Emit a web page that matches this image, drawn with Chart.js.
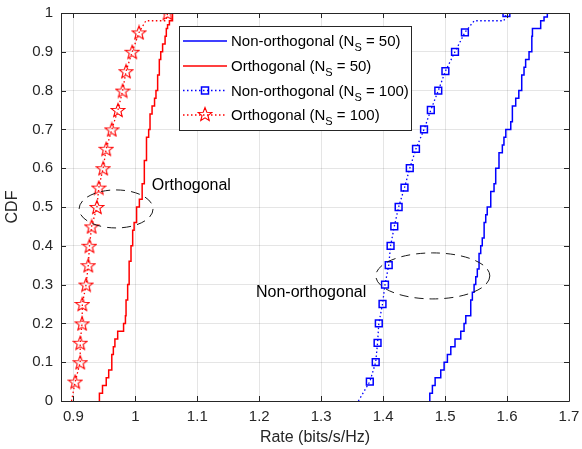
<!DOCTYPE html>
<html>
<head>
<meta charset="utf-8">
<script src="https://cdn.jsdelivr.net/npm/chart.js@4"></script>
<style>
  body { margin: 0; background: #fff; }
  canvas { display: block; }
</style>
</head>
<body>
<canvas id="myChart" width="582" height="449" style="width:582px;height:449px"></canvas>
<script>
// tick values
const xTicks = [0.9, 1, 1.1, 1.2, 1.3, 1.4, 1.5, 1.6, 1.7];
const yTicks = [0, 0.1, 0.2, 0.3, 0.4, 0.5, 0.6, 0.7, 0.8, 0.9, 1];

// Non-orthogonal, N_S = 50 (stairs)
const nonOrth50Rate = [1.4753, 1.4795, 1.4839, 1.493, 1.4984, 1.5037, 1.5092, 1.516, 1.5253, 1.5306,
  1.5334, 1.5414, 1.544, 1.5468, 1.5495, 1.552, 1.5548, 1.5575, 1.560, 1.563, 1.5656, 1.568, 1.5737,
  1.579, 1.5817, 1.587, 1.5924, 1.595, 1.598, 1.606, 1.6086, 1.614, 1.619, 1.6237, 1.6274, 1.630,
  1.6355, 1.64, 1.641, 1.6543, 1.6597, 1.665, 1.676];
const nonOrth50Cdf = [0, 0.02, 0.04, 0.06, 0.08, 0.10, 0.12, 0.14, 0.16, 0.18,
  0.20, 0.22, 0.26, 0.28, 0.30, 0.32, 0.34, 0.38, 0.40, 0.42, 0.46, 0.48, 0.50,
  0.54, 0.56, 0.60, 0.64, 0.66, 0.68, 0.70, 0.72, 0.76, 0.78, 0.80, 0.84, 0.86,
  0.88, 0.90, 0.94, 0.96, 0.98, 0.99, 1.0];

// Orthogonal, N_S = 50 (stairs)
const orth50Rate = [0.942, 0.947, 0.953, 0.957, 0.962, 0.9645, 0.967, 0.9715, 0.981, 0.984, 0.985,
  0.9876, 0.990, 0.993, 0.9957, 0.998, 1.002, 1.0065, 1.011, 1.0145, 1.018, 1.0215, 1.0237, 1.027,
  1.031, 1.0333, 1.036, 1.0387, 1.041, 1.044, 1.048, 1.050, 1.052, 1.055, 1.060, 1.066];
const orth50Cdf = [0, 0.02, 0.04, 0.06, 0.08, 0.12, 0.14, 0.16, 0.18, 0.20, 0.22,
  0.26, 0.30, 0.36, 0.40, 0.44, 0.46, 0.50, 0.52, 0.56, 0.62, 0.68, 0.70, 0.74,
  0.76, 0.78, 0.80, 0.84, 0.88, 0.90, 0.92, 0.94, 0.96, 0.97, 0.98, 1.0];

// N_S = 100 (dotted with markers)
const cdf100 = [0, 0.05, 0.10, 0.15, 0.20, 0.25, 0.30, 0.35, 0.40, 0.45, 0.50, 0.55, 0.60,
  0.65, 0.70, 0.75, 0.80, 0.85, 0.90, 0.95, 0.98, 0.98, 1.0];
const nonOrth100Rate = [1.360, 1.3785, 1.388, 1.391, 1.393, 1.399, 1.403, 1.409, 1.412, 1.418,
  1.425, 1.4345, 1.443, 1.453, 1.466, 1.477, 1.489, 1.5005, 1.516, 1.532, 1.547, 1.595, 1.599];
const orth100Rate = [0.897, 0.903, 0.911, 0.911, 0.914, 0.9145, 0.9205, 0.924, 0.926, 0.9295,
  0.938, 0.941, 0.948, 0.953, 0.962, 0.972, 0.9795, 0.985, 0.995, 1.006, 1.017, 1.0495, 1.052];
const marked100 = [0, 1, 1, 1, 1, 1, 1, 1, 1, 1, 1, 1, 1, 1, 1, 1, 1, 1, 1, 1, 0, 0, 1];

// annotations: [x, y, rx, ry] in data units, and labels [text, x, y]
const ellipses = [[0.9689, 0.495, 0.0597, 0.049], [1.4802, 0.3224, 0.092, 0.0593]];
const notes = [['Orthogonal', 1.0265, 0.544], ['Non-orthogonal', 1.1947, 0.268]];

const FONT = '"Liberation Sans", Arial, Helvetica, sans-serif';
const INK = '#262626';
const BLUE = '#0000ff';
const RED = '#ff0000';

function pts(xs, ys) {
    return xs.map((v, i) => ({x: v, y: ys[i]}));
}

function makeStar(color) {
    const c = document.createElement('canvas');
    c.width = 16; c.height = 16;
    const g = c.getContext('2d');
    g.fillStyle = '#fff';
    g.strokeStyle = color;
    g.lineWidth = 1.1;
    g.beginPath();
    for (let k = 0; k < 10; k++) {
        const r = k % 2 === 0 ? 7.2 : 3.1;
        const a = -Math.PI / 2 + k * Math.PI / 5;
        const px = 8 + r * Math.cos(a), py = 8.7 + r * Math.sin(a);
        if (k === 0) g.moveTo(px, py); else g.lineTo(px, py);
    }
    g.closePath();
    g.stroke();
    return c;
}
const starImg = makeStar(RED);

const legendRows = [
    {main: 'Non-orthogonal (N', tail: ' = 50)', color: BLUE, dash: [], marker: null},
    {main: 'Orthogonal (N', tail: ' = 50)', color: RED, dash: [], marker: null},
    {main: 'Non-orthogonal (N', tail: ' = 100)', color: BLUE, dash: [1.5, 2.5], marker: 'rect'},
    {main: 'Orthogonal (N', tail: ' = 100)', color: RED, dash: [1.5, 2.5], marker: 'star'}
];

const decor = {
    id: 'decor',
    afterDatasetsDraw(chart) {
        const ctx = chart.ctx;
        const a = chart.chartArea;
        const x = chart.scales.x, y = chart.scales.y;
        ctx.save();

        // dashed ellipses
        ctx.strokeStyle = '#1a1a1a';
        ctx.lineWidth = 1;
        ctx.setLineDash([9, 6]);
        ellipses.forEach(e => {
            const cx = x.getPixelForValue(e[0]), cy = y.getPixelForValue(e[1]);
            const rx = x.getPixelForValue(e[0] + e[2]) - cx;
            const ry = cy - y.getPixelForValue(e[1] + e[3]);
            ctx.beginPath();
            ctx.ellipse(cx, cy, rx, ry, 0, 0, 2 * Math.PI);
            ctx.stroke();
        });
        ctx.setLineDash([]);

        // annotation text
        ctx.fillStyle = '#000';
        ctx.font = '16px ' + FONT;
        ctx.textAlign = 'left';
        ctx.textBaseline = 'alphabetic';
        notes.forEach(n => ctx.fillText(n[0], x.getPixelForValue(n[1]), y.getPixelForValue(n[2])));

        // axes box with inward ticks
        ctx.strokeStyle = INK;
        ctx.lineWidth = 1;
        ctx.beginPath();
        ctx.rect(Math.round(a.left) + 0.5, Math.round(a.top) + 0.5,
                 Math.round(a.right - a.left), Math.round(a.bottom - a.top));
        xTicks.forEach(v => {
            const px = Math.round(x.getPixelForValue(v)) + 0.5;
            ctx.moveTo(px, a.bottom); ctx.lineTo(px, a.bottom - 5);
            ctx.moveTo(px, a.top); ctx.lineTo(px, a.top + 5);
        });
        yTicks.forEach(v => {
            const py = Math.round(y.getPixelForValue(v)) + 0.5;
            ctx.moveTo(a.left, py); ctx.lineTo(a.left + 5, py);
            ctx.moveTo(a.right, py); ctx.lineTo(a.right - 5, py);
        });
        ctx.stroke();

        // legend
        const lx = 179.5, ly = 26.5, lw = 232, lh = 104;
        ctx.fillStyle = '#fff';
        ctx.fillRect(lx, ly, lw, lh);
        ctx.strokeStyle = INK;
        ctx.strokeRect(lx, ly, lw, lh);
        const rowY = [41, 66, 90.5, 115];
        legendRows.forEach((r, i) => {
            const yy = rowY[i];
            ctx.strokeStyle = r.color;
            ctx.lineWidth = r.dash.length ? 1.3 : 1.5;
            ctx.setLineDash(r.dash);
            ctx.beginPath();
            ctx.moveTo(183, yy); ctx.lineTo(227, yy);
            ctx.stroke();
            ctx.setLineDash([]);
            if (r.marker === 'rect') {
                ctx.lineWidth = 1.5;
                ctx.strokeRect(201.5, yy - 3.5, 7, 7);
            } else if (r.marker === 'star') {
                ctx.drawImage(starImg, 205 - 8, Math.round(yy - 8.7));
            }
            ctx.fillStyle = '#000';
            ctx.font = '15px ' + FONT;
            let tx = 231;
            ctx.fillText(r.main, tx, yy + 5);
            tx += ctx.measureText(r.main).width;
            ctx.font = '11px ' + FONT;
            ctx.fillText('S', tx, yy + 10);
            tx += ctx.measureText('S').width;
            ctx.font = '15px ' + FONT;
            ctx.fillText(r.tail, tx, yy + 5);
        });
        ctx.restore();
    }
};

const ctx = document.getElementById('myChart');

const config = {
    type: 'line',
    data: {
        datasets: [
            {
                label: 'Non-orthogonal (NS = 50)',
                data: pts(nonOrth50Rate, nonOrth50Cdf),
                borderColor: BLUE,
                borderWidth: 1.5,
                stepped: 'after',
                pointRadius: 0
            },
            {
                label: 'Orthogonal (NS = 50)',
                data: pts(orth50Rate, orth50Cdf),
                borderColor: RED,
                borderWidth: 1.5,
                stepped: 'after',
                pointRadius: 0
            },
            {
                label: 'Non-orthogonal (NS = 100)',
                data: pts(nonOrth100Rate, cdf100),
                borderColor: BLUE,
                borderWidth: 1.3,
                borderDash: [1.5, 2.5],
                pointStyle: 'rect',
                pointRadius: c => marked100[c.dataIndex] ? 4.8 : 0,
                pointBorderWidth: 1.5,
                pointBorderColor: BLUE,
                pointBackgroundColor: 'rgba(0,0,0,0)'
            },
            {
                label: 'Orthogonal (NS = 100)',
                data: pts(orth100Rate, cdf100),
                borderColor: RED,
                borderWidth: 1.3,
                borderDash: [1.5, 2.5],
                pointStyle: c => marked100[c.dataIndex] ? starImg : false,
                pointRadius: c => marked100[c.dataIndex] ? 6 : 0,
                pointBorderColor: RED,
                pointBackgroundColor: 'rgba(0,0,0,0)'
            }
        ]
    },
    options: {
        responsive: false,
        animation: false,
        layout: {
            padding: {top: 13, right: 13, left: 0, bottom: 0}
        },
        plugins: {
            legend: {display: false},
            tooltip: {enabled: false}
        },
        scales: {
            x: {
                type: 'linear',
                min: 0.88,
                max: 1.7,
                afterBuildTicks: s => { s.ticks = xTicks.map(v => ({value: v})); },
                afterFit: s => { s.height = 48; s.paddingLeft = 0; s.paddingRight = 0; },
                grid: {color: 'rgba(38,38,38,0.12)', drawTicks: false},
                border: {display: false},
                ticks: {
                    padding: 7,
                    color: INK,
                    font: {size: 15, family: FONT},
                    maxRotation: 0,
                    callback: v => String(v)
                },
                title: {
                    display: true,
                    text: 'Rate (bits/s/Hz)',
                    color: INK,
                    font: {size: 16, family: FONT},
                    padding: {top: 0, bottom: 2}
                }
            },
            y: {
                type: 'linear',
                min: 0,
                max: 1,
                afterBuildTicks: s => { s.ticks = yTicks.map(v => ({value: v})); },
                afterFit: s => { s.width = 61; s.paddingTop = 0; s.paddingBottom = 0; },
                grid: {color: 'rgba(38,38,38,0.12)', drawTicks: false},
                border: {display: false},
                ticks: {
                    padding: 8,
                    color: INK,
                    font: {size: 15, family: FONT},
                    callback: v => String(v)
                },
                title: {
                    display: true,
                    text: 'CDF',
                    color: INK,
                    font: {size: 16, family: FONT},
                    padding: {top: 3, bottom: 0}
                }
            }
        }
    },
    plugins: [decor]
};

const chart = new Chart(ctx, config);
</script>
</body>
</html>
